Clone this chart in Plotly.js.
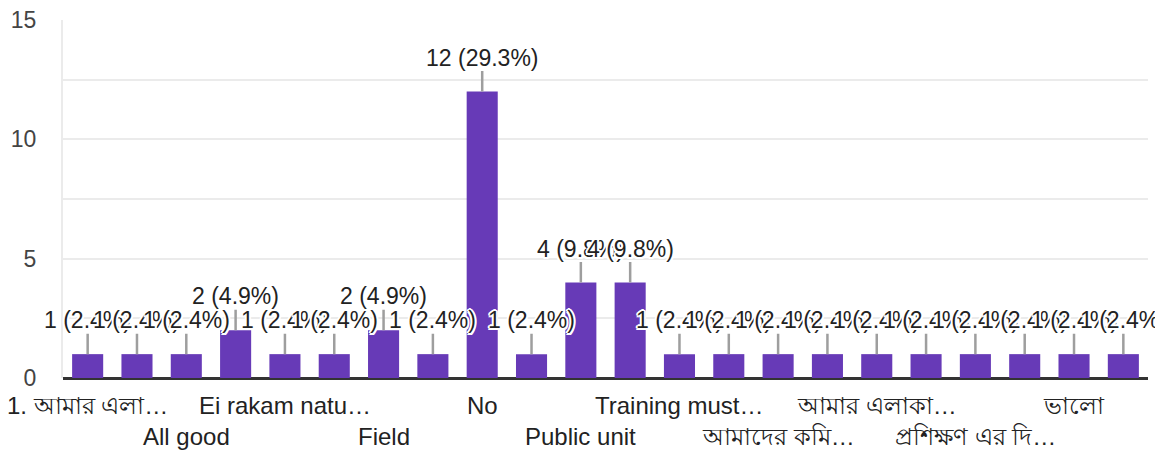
<!DOCTYPE html>
<html>
<head>
<meta charset="utf-8">
<script src="https://cdn.plot.ly/plotly-3.0.1.min.js"></script>
<style>html,body{margin:0;padding:0;background:#fff;}#chart{width:1155px;height:454px;}</style>
</head>
<body>
<div id="chart"></div>
<script>
// Category labels as shown (hidden/unreadable ones left empty)
const categories = [
  "1. আমার এলা…", "", "All good", "", "Ei rakam natu…", "", "Field", "",
  "No", "", "Public unit", "", "Training must…", "", "আমাদের কমি…", "",
  "আমার এলাকা…", "", "প্রশিক্ষণ এর দি…", "", "ভালো", ""
];
const counts = [1, 1, 1, 2, 1, 1, 2, 1, 12, 1, 4, 4, 1, 1, 1, 1, 1, 1, 1, 1, 1, 1];
const yTickVals = [0, 2.5, 5, 7.5, 10, 12.5, 15];
const yTickText = ["0", "", "5", "", "10", "", "15"];

const FONT = "Arial, 'Liberation Sans', 'Noto Sans', sans-serif";
const total = counts.reduce((a, b) => a + b, 0);
const xs = counts.map((_, i) => i);

const halo = "2px 0 0 #fff, -2px 0 0 #fff, 0 2px 0 #fff, 0 -2px 0 #fff, 1.5px 1.5px 0 #fff, -1.5px -1.5px 0 #fff, 1.5px -1.5px 0 #fff, -1.5px 1.5px 0 #fff";

const annotations = [];
counts.forEach((v, i) => {
  annotations.push({
    x: i, y: v, xref: 'x', yref: 'y',
    text: v + ' (' + (v / total * 100).toFixed(1) + '%)',
    showarrow: true, arrowhead: 0, arrowwidth: 2.5, arrowcolor: '#9e9e9e',
    ax: 0, ay: -34, borderpad: 0,
    font: {family: FONT, size: 23, color: '#222', shadow: halo}
  });
});
categories.forEach((c, i) => {
  if (!c) return;
  const row = Math.floor(i / 2) % 2;
  annotations.push({
    x: i, y: 0, xref: 'x', yref: 'paper',
    text: c, showarrow: false, yanchor: 'top', xanchor: 'center',
    yshift: row === 0 ? -12 : -43,
    font: {family: FONT, size: 24, color: '#222'}
  });
});

const trace = {
  type: 'bar', x: xs, y: counts,
  marker: {color: '#673ab7'},
  hoverinfo: 'none'
};

const layout = {
  width: 1155, height: 454,
  margin: {l: 63, r: 7, t: 20, b: 76},
  paper_bgcolor: '#fff', plot_bgcolor: '#fff',
  bargap: 0.37,
  showlegend: false,
  xaxis: {
    range: [-0.5, counts.length - 0.5],
    showticklabels: false, showgrid: false, zeroline: false, showline: false, ticks: ''
  },
  yaxis: {
    range: [0, 15], tickvals: yTickVals, ticktext: yTickText,
    showgrid: true, gridcolor: '#ebebeb', gridwidth: 2,
    zeroline: true, zerolinecolor: '#333', zerolinewidth: 3,
    showline: true, linecolor: '#ebebeb', linewidth: 2,
    ticks: 'outside', ticklen: 20, tickcolor: 'rgba(0,0,0,0)',
    tickfont: {family: FONT, size: 23, color: '#444'}
  },
  annotations: annotations
};

Plotly.newPlot('chart', [trace], layout, {displayModeBar: false, staticPlot: true});
</script>
</body>
</html>
